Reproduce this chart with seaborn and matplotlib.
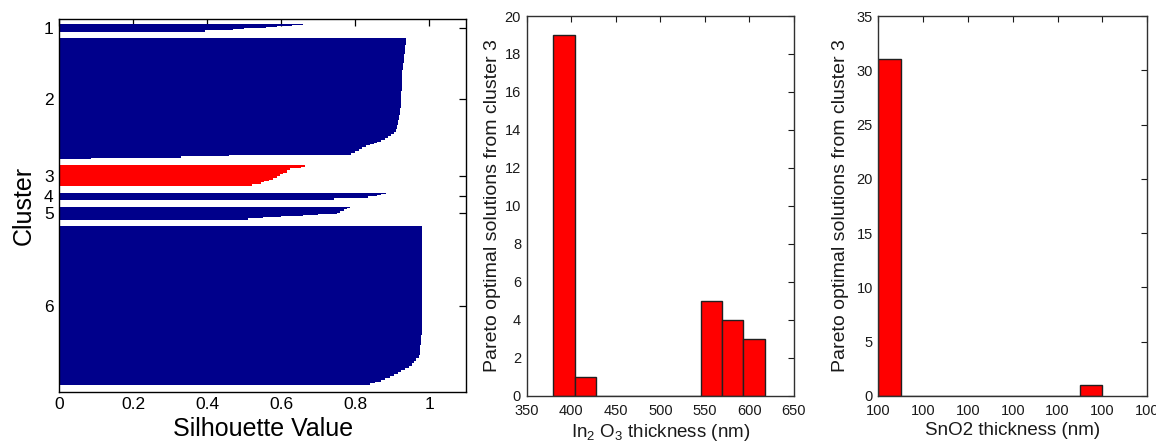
import numpy as np
import pandas as pd
import matplotlib
matplotlib.use("Agg")
import matplotlib.pyplot as plt
import seaborn as sns
from matplotlib.ticker import FormatStrFormatter, MultipleLocator, FixedLocator

# ---------------- data ----------------
cluster_ids = [1, 2, 3, 4, 5, 6]
highlight_cluster = 3

# silhouette values per cluster, sorted descending, as (value, count) runs
c1_vals = [0.66, 0.63, 0.59, 0.56, 0.54, 0.50, 0.47, 0.395]
c1_cnts = [2, 1, 2, 1, 1, 1, 1, 3]

c2_vals = [0.937, 0.935, 0.932, 0.930, 0.928, 0.926, 0.925, 0.923, 0.921, 0.919,
           0.916, 0.914, 0.912, 0.905, 0.898, 0.89, 0.88, 0.87, 0.86, 0.85,
           0.84, 0.83, 0.82, 0.81, 0.80, 0.79, 0.46, 0.33, 0.085]
c2_cnts = [10, 14, 14, 12, 14, 18, 16, 10, 11, 8,
           7, 6, 5, 3, 3, 3, 3, 3, 2, 2,
           2, 3, 3, 3, 3, 3, 2, 2, 2]

c3_vals = [0.664, 0.655, 0.625, 0.615, 0.605, 0.597, 0.588, 0.578, 0.567, 0.555, 0.545, 0.52]
c3_cnts = [2, 2, 3, 4, 3, 3, 2, 3, 2, 2, 2, 4]

c4_vals = [0.885, 0.87, 0.858, 0.846, 0.836, 0.742]
c4_cnts = [2, 1, 2, 1, 3, 3]

c5_vals = [0.786, 0.778, 0.770, 0.760, 0.752, 0.70, 0.66, 0.60, 0.55, 0.51]
c5_cnts = [2, 2, 2, 3, 2, 2, 2, 1, 2, 2]

c6_vals = [0.981, 0.980, 0.978, 0.976, 0.972, 0.966, 0.960, 0.953, 0.945, 0.935,
           0.925, 0.915, 0.905, 0.895, 0.882, 0.87, 0.855, 0.84]
c6_cnts = [90, 78, 16, 15, 5, 4, 4, 4, 4, 3,
           3, 3, 3, 3, 3, 3, 2, 3]

sil_runs = [(c1_vals, c1_cnts), (c2_vals, c2_cnts), (c3_vals, c3_cnts),
            (c4_vals, c4_cnts), (c5_vals, c5_cnts), (c6_vals, c6_cnts)]

# histogram of In2O3 thickness for cluster 3 (10 bins)
in2o3_counts = [19, 1, 0, 0, 0, 0, 0, 5, 4, 3]
in2o3_min, in2o3_max = 380.0, 617.0
in2o3_ticks = [350, 400, 450, 500, 550, 600, 650]

# histogram of SnO2 thickness for cluster 3 (10 bins, all values ~100 nm)
sno2_counts = [31, 0, 0, 0, 0, 0, 0, 0, 0, 1]
sno2_min, sno2_max = 100.00, 100.05
sno2_ticks = [100.00, 100.01, 100.02, 100.03, 100.04, 100.05, 100.06]

# ---------------- style ----------------
sns.set_style("white")
plt.rcParams["font.family"] = ["Liberation Sans", "DejaVu Sans"]
plt.rcParams["mathtext.fontset"] = "custom"
plt.rcParams["mathtext.rm"] = "Liberation Sans"
plt.rcParams["mathtext.it"] = "Liberation Sans"
plt.rcParams["mathtext.default"] = "regular"

navy = "#00008B"
red = "#FF0000"
txt = "#1a1a1a"

fig = plt.figure(figsize=(11.56, 4.42), dpi=100)
ax1 = fig.add_axes([0.0513, 0.1138, 0.3518, 0.8425])
ax2 = fig.add_axes([0.4556, 0.1041, 0.2312, 0.8597])
ax3 = fig.add_axes([0.7598, 0.1041, 0.2327, 0.8597])

# ---------------- silhouette plot ----------------
space = 10
rows = []
centers = []
offset = space
for cid, (vals, cnts) in zip(cluster_ids, sil_runs):
    v = np.repeat(vals, cnts)
    pos = offset + np.arange(len(v))
    centers.append(offset + (len(v) - 1) / 2)
    for p, val in zip(pos, v):
        rows.append((val, p, cid))
    offset += len(v) + space
sil = pd.DataFrame(rows, columns=["value", "pos", "cluster"])

palette = {c: (red if c == highlight_cluster else navy) for c in cluster_ids}
sns.barplot(data=sil, x="value", y="pos", hue="cluster", palette=palette,
            orient="h", native_scale=True, dodge=False, width=1.0,
            linewidth=0, errorbar=None, legend=False, saturation=1,
            antialiased=False, ax=ax1)
ax1.set_xlim(0, 1.1)
ax1.set_ylim(offset - space + 10 - 0.5, 2.5)
ax1.xaxis.set_major_locator(FixedLocator([0, 0.2, 0.4, 0.6, 0.8, 1.0]))
ax1.xaxis.set_major_formatter(FormatStrFormatter("%g"))
ax1.yaxis.set_major_locator(FixedLocator(centers))
ax1.set_yticklabels([str(c) for c in cluster_ids])
ax1.tick_params(direction="in", top=True, right=True, length=5, width=0.9,
                labelsize=12.5, colors="black", pad=4)
ax1.set_xlabel("Silhouette Value", fontsize=18, color="black", labelpad=3.5)
ax1.set_ylabel("Cluster", fontsize=18, color="black", labelpad=6)
for s in ax1.spines.values():
    s.set_color("black")
    s.set_linewidth(1.0)

# ---------------- histograms ----------------
def draw_hist(ax, counts, lo, hi, color):
    width = (hi - lo) / len(counts)
    mids = lo + width * (np.arange(len(counts)) + 0.5)
    df = pd.DataFrame({"x": mids, "w": np.asarray(counts, dtype=float)})
    sns.histplot(data=df, x="x", weights="w", bins=len(counts), binrange=(lo, hi),
                 color=color, alpha=1.0, edgecolor="#202020", linewidth=1.0, ax=ax)
    ax.set_xlabel("")
    ax.set_ylabel("")

draw_hist(ax2, in2o3_counts, in2o3_min, in2o3_max, red)
ax2.set_xlim(350, 650)
ax2.set_ylim(0, 20)
ax2.xaxis.set_major_locator(FixedLocator(in2o3_ticks))
ax2.yaxis.set_major_locator(MultipleLocator(2))
ax2.set_xlabel("In$_2$ O$_3$ thickness (nm)", fontsize=13.5, color=txt, labelpad=3)
ax2.set_ylabel("Pareto optimal solutions from cluster 3", fontsize=14, color=txt, labelpad=3)

draw_hist(ax3, sno2_counts, sno2_min, sno2_max, red)
ax3.set_xlim(sno2_ticks[0], sno2_ticks[-1])
ax3.set_ylim(0, 35)
ax3.xaxis.set_major_locator(FixedLocator(sno2_ticks))
ax3.xaxis.set_major_formatter(FormatStrFormatter("%.0f"))
ax3.yaxis.set_major_locator(MultipleLocator(5))
ax3.set_xlabel("SnO2 thickness (nm)", fontsize=13.5, color=txt, labelpad=3)
ax3.set_ylabel("Pareto optimal solutions from cluster 3", fontsize=14, color=txt, labelpad=5)

for ax in (ax2, ax3):
    ax.tick_params(axis="both", direction="in", top=True, right=True, length=4,
                   width=0.8, labelsize=10.5, colors=txt)
    ax.tick_params(axis="x", pad=6)
    ax.tick_params(axis="y", pad=4)
    for s in ax.spines.values():
        s.set_color("#303030")
        s.set_linewidth(1.0)

fig.savefig("out.png", dpi=100)
